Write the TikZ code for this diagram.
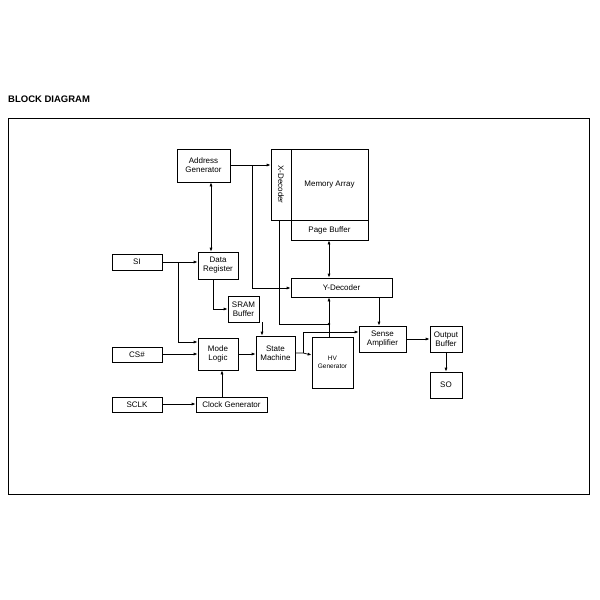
\documentclass[tikz,border=0pt]{standalone}
\usepackage{fontspec}
\setmainfont{Liberation Sans}
\usetikzlibrary{arrows.meta}
\begin{document}
\begin{tikzpicture}[x=1pt,y=-1pt,
 box/.style={draw,line width=0.7pt,align=center,font=\fontsize{8}{9}\selectfont},
 ar/.style={-{Latex[length=4pt,width=3pt]},line width=0.7pt},
 dar/.style={{Latex[length=4pt,width=3pt]}-{Latex[length=4pt,width=3pt]},line width=0.7pt}]
\useasboundingbox (0,0) rectangle (600,600);
\node[anchor=west,inner sep=0pt,font=\bfseries\fontsize{9.5}{10}\selectfont] (title) at (8,99) {BLOCK DIAGRAM};
\draw[line width=0.7pt] (8,118) rectangle (589,494);
\newcommand{\bx}[6]{\node[box,minimum width=#4-#2,minimum height=#5-#3,inner sep=0pt] (#1) at ({(#2+#4)/2},{(#3+#5)/2}) {#6};}
\bx{ag}{177}{149}{230}{182}{Address\\Generator}
\bx{xd}{271}{149}{291}{220}{}
\node[rotate=-90,font=\fontsize{8}{9}\selectfont] (xdl) at (xd) {X-Decoder};
\bx{ma}{291}{149}{368}{220}{Memory Array}
\bx{pb}{291}{220}{368}{240}{Page Buffer}
\bx{yd}{291}{278}{392}{297}{Y-Decoder}
\bx{si}{112}{254}{162}{270}{SI}
\bx{dr}{198}{252}{238}{279}{Data\\Register}
\bx{sr}{228}{296}{259}{322}{SRAM\\Buffer}
\bx{cs}{112}{347}{162}{362}{CS\#}
\bx{sc}{112}{397}{162}{412}{SCLK}
\bx{ml}{198}{338}{238}{370}{Mode\\Logic}
\bx{sm}{256}{336}{295}{370}{State\\Machine}
\node[box,minimum width=41,minimum height=51,inner sep=0pt,font=\fontsize{6.5}{7.5}\selectfont] (hv) at (332.5,362.5) {HV\\Generator};
\bx{sa}{359}{326}{406}{352}{Sense\\Amplifier}
\bx{ob}{430}{326}{462}{352}{Output\\Buffer}
\bx{so}{430}{372}{462}{398}{SO}
\bx{cg}{196}{397}{267}{412}{Clock Generator}
\draw[line width=0.7pt] (291,149) -- (291,240);
% connectors
\draw[dar] (dr.north -| 211,0) -- (ag.south -| 211,0);
\draw[ar] (ag.east |- 0,165) -- (xd.west |- 0,165);
\coordinate (j1) at (252,165);
\draw[ar] (j1) |- (yd.west |- 0,288);
\draw[ar] (si.east) -- (dr.west |- si.east);
\coordinate (j2) at (178,262);
\draw[ar] (j2) |- (ml.west |- 0,342);
\draw[ar] (dr.south -| 213,0) |- (sr.west |- 0,309);
\draw[ar] (sr.south -| 262,0) -- (sm.north -| 262,0);
\draw[ar] (cs.east |- 0,354) -- (ml.west |- 0,354);
\draw[ar] (ml.east |- 0,354) -- (sm.west |- 0,354);
\draw[ar] (cg.north -| 222,0) -- (ml.south -| 222,0);
\draw[ar] (sc.east |- 0,404) -- (cg.west |- 0,404);
\draw[ar] (sm.east |- 0,353) -- (303,353) -- (hv.west |- 0,355);
\coordinate (j3) at (303,353);
\draw[ar] (j3) |- (sa.west |- 0,332);
\draw[ar] (hv.north -| 329,0) -- (yd.south -| 329,0);
\draw[line width=0.7pt] (xd.south -| 279,0) |- (329,324);
\fill (329,324) circle (1.3pt);
\draw[dar] (pb.south -| 329,0) -- (yd.north -| 329,0);
\draw[ar] (yd.south -| 379,0) -- (sa.north -| 379,0);
\draw[ar] (sa.east |- 0,339) -- (ob.west |- 0,339);
\draw[ar] (ob.south -| 446,0) -- (so.north -| 446,0);
\end{tikzpicture}
\end{document}
